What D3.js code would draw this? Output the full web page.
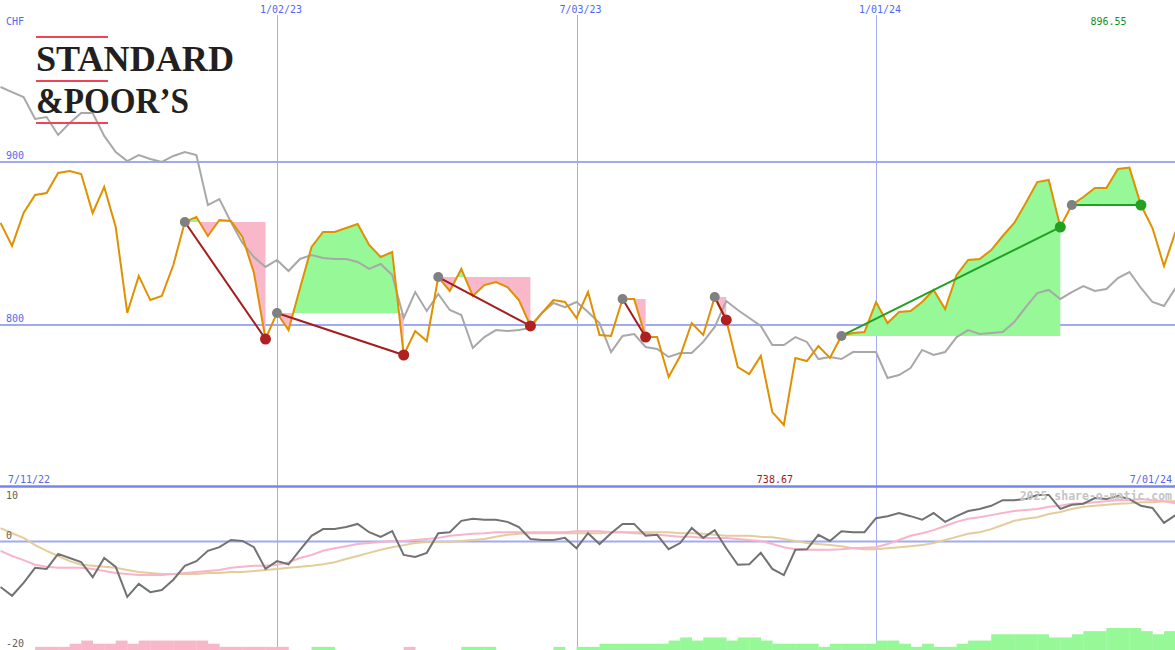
<!DOCTYPE html>
<html><head><meta charset="utf-8">
<script src="https://cdn.jsdelivr.net/npm/d3@7"></script>
<style>body{margin:0;background:#fff}svg{display:block}</style>
</head><body>
<script>
// ---------- DATA ----------
const startDate = "2022-07-18"; // first weekly point, one point per week
const price = [862.6,848.5,868.7,879.8,881.0,893.3,894.5,892.6,868.7,884.7,
860.1,807.4,830.1,815.3,817.8,836.8,863.2,866.3,854.6,864.4,
863.8,854.0,831.9,791.4,807.4,796.9,822.7,847.9,857.1,857.1,
859.5,862.0,849.1,841.7,844.8,781.6,796.3,790.2,829.4,820.9,
834.4,817.8,824.5,826.4,823.3,815.3,799.4,807.4,815.3,814.1,
804.3,820.2,793.9,793.3,816.0,816.0,792.6,792.6,768.1,781.0,
801.2,793.9,817.2,803.1,774.2,769.9,781.0,746.6,738.67,779.8,
777.9,787.1,779.8,793.3,795.1,795.7,814.1,801.2,808.0,808.6,
814.1,821.5,809.8,830.7,839.9,840.5,846.0,854.6,862.6,874.8,
887.7,889.0,860.1,873.6,878.5,884.0,884.0,895.7,896.55,873.6,
859.5,836.2,857.1];
const relative = [946.0,942.9,939.9,926.4,927.6,916.6,923.9,930.1,930.1,916.0,
906.1,900.6,904.3,901.8,900.0,903.7,906.1,904.3,873.6,877.3,
863.2,850.3,841.7,835.6,839.9,833.1,840.5,842.9,841.1,840.5,
840.5,838.7,834.4,837.4,830.7,804.3,820.2,808.6,819.0,809.2,
806.1,785.9,792.6,796.9,796.3,796.9,798.2,807.4,813.5,811.0,
814.1,808.0,801.2,783.4,793.3,794.5,786.5,785.3,780.4,782.8,
782.8,789.6,798.8,814.7,809.2,804.3,799.4,787.7,787.7,792.6,
789.6,779.1,780.4,779.1,783.4,783.4,783.4,767.5,769.3,773.6,
784.7,781.6,783.4,792.6,796.9,794.5,795.1,795.7,801.8,811.0,
819.6,821.5,816.0,820.2,823.9,820.9,822.1,828.8,832.5,822.7,
814.1,811.7,822.7];
// lower panel
const momentum = [-8.8,-10.5,-8.0,-5.1,-5.3,-2.4,-3.2,-4.0,-6.9,-3.2,
-4.9,-10.7,-8.2,-9.8,-9.4,-7.4,-4.7,-3.8,-1.8,-1.1,
0.3,0.1,-1.1,-5.3,-3.8,-4.4,-1.6,1.1,2.4,2.4,
2.8,3.4,1.8,0.9,2.0,-2.6,-3.0,-2.2,1.6,1.8,
4.0,4.4,4.2,4.2,3.8,2.8,0.5,0.3,0.3,0.7,
-1.3,1.6,-0.5,1.6,3.4,3.4,1.1,1.3,-1.5,-0.3,
2.6,0.7,2.2,-1.3,-4.5,-4.4,-2.2,-5.3,-6.5,-1.6,
-1.5,1.3,0.1,2.0,1.8,1.8,4.5,4.9,5.5,4.9,
4.2,5.5,3.8,4.9,5.9,6.3,6.9,8.0,8.0,8.2,
9.0,9.0,6.3,7.1,7.3,8.4,8.2,8.8,8.2,6.9,
6.5,3.6,5.1];
const avgFast = [-1.8,-2.8,-3.6,-4.5,-4.9,-5.1,-5.1,-5.1,-5.3,-5.7,
-6.1,-6.3,-6.5,-6.5,-6.5,-6.3,-6.1,-5.9,-5.7,-5.5,
-5.1,-4.9,-4.7,-4.7,-4.5,-4.0,-3.2,-2.6,-1.8,-1.3,
-0.9,-0.5,-0.3,-0.1,0.1,0.1,0.3,0.5,0.7,1.1,
1.3,1.5,1.6,1.8,1.8,1.8,1.8,1.8,1.8,1.8,
2.0,2.0,2.0,1.8,1.8,1.6,1.5,1.3,1.1,0.9,
0.9,0.7,0.7,0.7,0.5,0.3,0.1,-0.5,-1.1,-1.5,
-1.6,-1.6,-1.6,-1.5,-1.3,-1.2,-1.1,-0.5,0.3,1.1,
1.6,2.2,3.0,3.8,4.4,4.7,5.1,5.5,5.9,6.1,
6.3,6.7,6.9,7.3,7.4,7.6,7.8,8.0,8.0,8.2,
8.0,7.8,7.4];
const avgSlow = [2.6,1.6,0.7,-0.7,-1.8,-2.8,-3.8,-4.5,-4.7,-4.9,
-5.1,-5.5,-5.9,-6.1,-6.3,-6.3,-6.3,-6.3,-6.1,-6.1,
-5.9,-5.9,-5.7,-5.5,-5.3,-5.1,-4.9,-4.7,-4.4,-4.0,
-3.4,-2.8,-2.2,-1.6,-1.1,-0.7,-0.3,-0.1,-0.1,-0.1,
0.1,0.3,0.5,0.9,1.3,1.5,1.6,1.6,1.6,1.6,
1.6,1.6,1.6,1.8,1.8,1.8,1.8,1.8,1.8,1.6,
1.6,1.5,1.3,1.1,1.1,1.1,0.9,0.8,0.5,0.1,
-0.3,-0.5,-0.7,-0.9,-1.3,-1.5,-1.5,-1.3,-1.1,-0.9,
-0.7,-0.3,0.3,0.9,1.5,1.8,2.4,3.2,4.0,4.4,
4.7,5.3,5.7,6.3,6.7,6.9,7.1,7.3,7.4,7.6,
7.6,7.8,7.8];
const strength = [0,0,0,-1,-1,-1,-2,-3,-2,-2,
-3,-2,-3,-3,-3,-3,-3,-3,-2,-1,
-1,-1,-1,-1,-1,0,0,1,1,0,
0,0,0,0,0,-1,0,0,0,0,
1,1,1,0,0,0,0,0,1,0,
1,1,2,2,2,2,2,2,3,4,
3,4,4,3,4,4,3,2,2,2,
2,1,2,2,2,2,3,3,2,1,
2,1,1,2,3,3,5,5,5,5,
5,4,4,5,6,6,7,7,7,6,
5,6,0];
// trades (week indices)
const tradeStart = [16,24,38,54,62,73,93];
const tradeEnd   = [23,35,46,56,63,92,99];
const tradeWin   = [false,false,false,false,false,true,true];
// ticks / labels
const priceTicks = [800,900];
const lowerTicks = [10,0,-20];
const gridDates = ["2023-01-02","2023-07-03","2024-01-01"];
const gridLabels = ["1/02/23","7/03/23","1/01/24"];
const rangeLabels = ["7/11/22","7/01/24"];
const currency = "CHF";
const maxLabel = "896.55", minLabel = "738.67";
const watermark = "2025 share-o-matic.com";

// ---------- CHART ----------
const W = 1175, H = 650;
const parse = d3.utcParse("%Y-%m-%d");
const t0 = parse(startDate);
const dates = price.map((_, i) => d3.utcDay.offset(t0, 7 * i));

const x = d3.scaleUtc().domain([parse("2023-01-02"), parse("2024-01-01")]).range([277, 876]);
const y = d3.scaleLinear().domain([800, 900]).range([325, 162]);
const yb = d3.scaleLinear().domain([-20, 10]).range([644.9, 489.8]);
const yh = d3.scaleLinear().domain([0, 7]).range([650, 628]);
const weekW = x(d3.utcDay.offset(t0, 7)) - x(t0);

const svg = d3.select("body").append("svg").attr("width", W).attr("height", H)
  .style("background", "#fefffe");
const defs = svg.append("defs");
defs.append("clipPath").attr("id", "mainClip").append("rect")
  .attr("x", 0).attr("y", 0).attr("width", W).attr("height", 486);
defs.append("clipPath").attr("id", "lowClip").append("rect")
  .attr("x", 0).attr("y", 488).attr("width", W).attr("height", H - 488);

const mono = "'DejaVu Sans Mono', monospace";
const blue = "#5468f0";

// vertical grid
svg.append("g").selectAll("line").data(gridDates).join("line")
  .attr("x1", d => Math.round(x(parse(d))) + 0.5).attr("x2", d => Math.round(x(parse(d))) + 0.5)
  .attr("y1", 15).attr("y2", H)
  .attr("stroke", "#a4acf2").attr("stroke-width", 1);
svg.append("g").selectAll("text").data(gridLabels).join("text")
  .attr("x", (d, i) => x(parse(gridDates[i])) - 17).attr("y", 13)
  .attr("font-family", mono).attr("font-size", 10).attr("fill", blue).text(d => d);

// horizontal price grid
svg.append("g").selectAll("line").data(priceTicks).join("line")
  .attr("x1", 0).attr("x2", W).attr("y1", d => y(d)).attr("y2", d => y(d))
  .attr("stroke", "#a0aaf2").attr("stroke-width", 2);
svg.append("g").selectAll("text").data(priceTicks).join("text")
  .attr("x", 6).attr("y", d => y(d) - 3)
  .attr("font-family", mono).attr("font-size", 10).attr("fill", blue).text(d => d);

svg.append("text").attr("x", 6).attr("y", 25).attr("font-family", mono)
  .attr("font-size", 10).attr("fill", blue).text(currency);

const main = svg.append("g").attr("clip-path", "url(#mainClip)");

// trade fills
tradeStart.forEach((s, t) => {
  const e = tradeEnd[t];
  const base = price[s];
  const idx = d3.range(s, e + 1);
  const area = d3.area().x(i => x(dates[i])).y0(y(base)).y1(i => y(price[i]));
  const idUp = "up" + t, idDn = "dn" + t;
  defs.append("clipPath").attr("id", idUp).append("rect")
    .attr("x", 0).attr("y", 0).attr("width", W).attr("height", y(base));
  defs.append("clipPath").attr("id", idDn).append("rect")
    .attr("x", 0).attr("y", y(base)).attr("width", W).attr("height", 486 - y(base));
  main.append("path").attr("d", area(idx)).attr("fill", "#96f896").attr("clip-path", `url(#${idUp})`);
  main.append("path").attr("d", area(idx)).attr("fill", "#f9b8ca").attr("clip-path", `url(#${idDn})`);
});

const line = arr => d3.line().x((d, i) => x(dates[i])).y(d => y(d))(arr);
main.append("path").attr("d", line(relative)).attr("fill", "none")
  .attr("stroke", "#a8a8a8").attr("stroke-width", 2);

// logo
const logo = svg.append("g");
[37, 81, 123].forEach(yy => logo.append("line").attr("x1", 36).attr("x2", 108)
  .attr("y1", yy).attr("y2", yy).attr("stroke", "#ee4455").attr("stroke-width", 2));
logo.append("text").attr("x", 36).attr("y", 71).attr("font-family", "'Liberation Serif', serif")
  .attr("font-size", 35).attr("font-weight", "bold").attr("fill", "#231f20").attr("textLength", 198)
  .attr("lengthAdjust", "spacingAndGlyphs").text("STANDARD");
logo.append("text").attr("x", 36).attr("y", 113).attr("font-family", "'Liberation Serif', serif")
  .attr("font-size", 35).attr("font-weight", "bold").attr("fill", "#231f20").attr("textLength", 153)
  .attr("lengthAdjust", "spacingAndGlyphs").text("&POOR\u2019S");

main.append("path").attr("d", line(price)).attr("fill", "none")
  .attr("stroke", "#e09000").attr("stroke-width", 2);

// trade lines and dots
tradeStart.forEach((s, t) => {
  const e = tradeEnd[t];
  const col = tradeWin[t] ? "#22a022" : "#a41c1c";
  main.append("line").attr("x1", x(dates[s])).attr("y1", y(price[s]))
    .attr("x2", x(dates[e])).attr("y2", y(price[e]))
    .attr("stroke", col).attr("stroke-width", 2);
});
tradeStart.forEach((s, t) => {
  const e = tradeEnd[t];
  main.append("circle").attr("cx", x(dates[s])).attr("cy", y(price[s])).attr("r", 5)
    .attr("fill", "#808080");
  main.append("circle").attr("cx", x(dates[e])).attr("cy", y(price[e])).attr("r", 5.5)
    .attr("fill", tradeWin[t] ? "#22a022" : "#b02020");
});

// max / min labels
const iMax = price.indexOf(d3.max(price)), iMin = price.indexOf(d3.min(price));
svg.append("text").attr("x", x(dates[iMax]) - 39).attr("y", 25).attr("font-family", mono)
  .attr("font-size", 10).attr("fill", "#16901a").text(maxLabel);
svg.append("text").attr("x", x(dates[iMin]) - 27).attr("y", 483).attr("font-family", mono)
  .attr("font-size", 10).attr("fill", "#a01818").text(minLabel);
svg.append("text").attr("x", 8).attr("y", 483).attr("font-family", mono)
  .attr("font-size", 10).attr("fill", blue).text(rangeLabels[0]);
svg.append("text").attr("x", 1172).attr("y", 483).attr("text-anchor", "end").attr("font-family", mono)
  .attr("font-size", 10).attr("fill", blue).text(rangeLabels[1]);

// divider
svg.append("line").attr("x1", 0).attr("x2", W).attr("y1", 486.5).attr("y2", 486.5)
  .attr("stroke", "#7484f2").attr("stroke-width", 2.5);

// lower panel
const low = svg.append("g").attr("clip-path", "url(#lowClip)");
low.append("line").attr("x1", 0).attr("x2", W).attr("y1", yb(0)).attr("y2", yb(0))
  .attr("stroke", "#a0aaf2").attr("stroke-width", 2);
low.selectAll("rect.bar").data(strength).join("rect").attr("class", "bar")
  .attr("x", (d, i) => x(dates[i])).attr("width", weekW + 0.3)
  .attr("y", d => yh(Math.abs(d))).attr("height", d => yh(0) - yh(Math.abs(d)))
  .attr("fill", d => d < 0 ? "#f9b8ca" : "#96f896");
const lowMin = d3.min(lowerTicks);
svg.append("g").selectAll("text").data(lowerTicks).join("text")
  .attr("x", 6).attr("y", d => d === lowMin ? H - 3 : Math.max(yb(d) - 3, 499))
  .attr("font-family", mono).attr("font-size", 10).attr("fill", "#606060").text(d => d);
svg.append("text").attr("x", 1172).attr("y", 500).attr("text-anchor", "end")
  .attr("font-family", mono).attr("font-size", 11.5).attr("font-weight", "bold")
  .attr("fill", "#c4c4c4").text(watermark);
const lline = arr => d3.line().x((d, i) => x(dates[i])).y(d => yb(d))(arr);
low.append("path").attr("d", lline(avgSlow)).attr("fill", "none").attr("stroke", "#e4cc9c").attr("stroke-width", 2);
low.append("path").attr("d", lline(avgFast)).attr("fill", "none").attr("stroke", "#f8b4ca").attr("stroke-width", 2);
low.append("path").attr("d", lline(momentum)).attr("fill", "none").attr("stroke", "#727272").attr("stroke-width", 2);
</script>
</body></html>
